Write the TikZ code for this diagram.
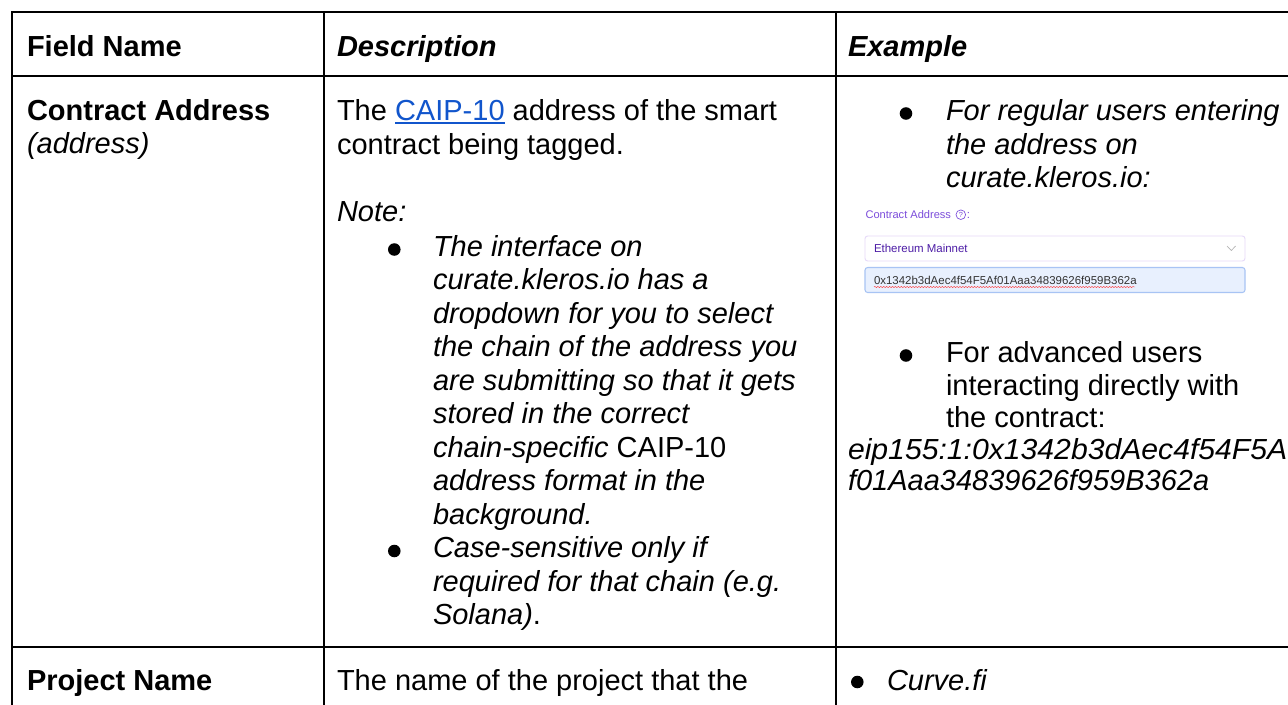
\documentclass[tikz,border=0pt]{standalone}
\usepackage{fontspec}
\usepackage{graphicx}
\setmainfont{Liberation Sans}
\usetikzlibrary{decorations.pathmorphing}
\definecolor{linkblue}{HTML}{1155CC}
\definecolor{uipurple}{HTML}{7C4DDB}
\definecolor{uidark}{HTML}{4D1DA6}
\definecolor{uiborder}{HTML}{E6DAF8}
\definecolor{inputfill}{HTML}{E8F0FE}
\definecolor{inputborder}{HTML}{A8C4F4}
\definecolor{uitext}{HTML}{333333}
\newcommand{\bodyfont}{\fontsize{21.75}{26}\selectfont}
\newcommand{\uifont}{\fontsize{8.6}{10}\selectfont}
\newcommand{\uilabelfont}{\fontsize{8.3}{10}\selectfont}
\newcommand{\mylink}[1]{\setbox0\hbox{#1}\rlap{\rule[-2.6pt]{\wd0}{1.3pt}}\box0}
\begin{document}
\begin{tikzpicture}[x=0.75pt,y=-0.75pt,
  txt/.style={anchor=base west, inner sep=0pt, outer sep=0pt, font=\bodyfont},
  bold/.style={txt, font=\bodyfont\bfseries},
  ital/.style={txt, font=\bodyfont\itshape},
  boldital/.style={txt, font=\bodyfont\bfseries\itshape},
  rule/.style={line width=1.6pt, black},
  dot/.style={circle, fill=black, draw=none, inner sep=0pt, minimum size=9.4pt},
  uitxt/.style={anchor=base west, inner sep=0pt, outer sep=0pt, font=\uifont}]
\useasboundingbox (0,0) rectangle (1288,704);
\fill[white] (0,0) rectangle (1288,704);

% table rules
\draw[rule, line join=miter] (12.2,720) -- (12.2,12.2) -- (1300,12.2);
\draw[rule] (12.2,76) -- (1300,76);
\draw[rule] (12.2,646.7) -- (1300,646.7);
\draw[rule] (324,12.2) -- (324,720);
\draw[rule] (836,12.2) -- (836,720);

% header
\node[bold] (h1) at (27,56) {Field Name};
\node[boldital] (h2) at (337,56) {Description};
\node[boldital] (h3) at (848,56) {Example};

% row 1, column 1
\node[bold] (r1a) at (27,120.5) {Contract Address};
\node[ital] (r1b) at (27,153.5) {(address)};

% row 1, column 2
\node[txt] (d1) at (337,120.5) {The \textcolor{linkblue}{\mylink{CAIP-10}} address of the smart};
\node[txt] (d2) at (337,154) {contract being tagged.};
\node[ital] (d3) at (337,221.7) {Note:};
\node[dot] (b1) at (394.3,249.5) {};
\node[ital] (l1) at (433,256) {The interface on};
\node[ital] (l2) at (433,289.5) {curate.kleros.io has a};
\node[ital] (l3) at (433,323) {dropdown for you to select};
\node[ital] (l4) at (433,356.5) {the chain of the address you};
\node[ital] (l5) at (433,390) {are submitting so that it gets};
\node[ital] (l6) at (433,423.5) {stored in the correct};
\node[txt] (l7) at (433,457) {\itshape chain-specific\upshape{} CAIP-10};
\node[ital] (l8) at (433,490.5) {address format in the};
\node[ital] (l9) at (433,524) {background.};
\node[dot] (b2) at (394.3,551) {};
\node[ital] (l10) at (433,557.5) {Case-sensitive only if};
\node[ital] (l11) at (433,591) {required for that chain (e.g.};
\node[txt] (l12) at (433,624.5) {\itshape Solana)\upshape.};

% row 1, column 3
\node[dot] (b3) at (906,113.5) {};
\node[ital] (e1) at (946,120.7) {For regular users entering};
\node[ital] (e2) at (946,154) {the address on};
\node[ital] (e3) at (946,187) {curate.kleros.io:};

% screenshot of the form
\node[uitxt, font=\uilabelfont, text=uipurple] (ca) at (865.5,218.5) {Contract Address};
\node[circle, draw=uipurple, line width=0.5pt, inner sep=0pt, minimum size=7.2pt,
      font=\fontsize{5.5}{6}\selectfont, text=uipurple] (help) at (960.8,214.7) {?};
\node[uitxt, text=uipurple] (colon) at (966.8,218.5) {:};
\draw[uiborder, fill=white, line width=0.7pt, rounded corners=2pt] (865,236) rectangle (1245,261);
\node[uitxt, text=uidark] (chain) at (874,252) {Ethereum Mainnet};
\draw[black!30, line width=0.5pt] (1227,246) -- (1231.3,250.5) -- (1235.6,246);
\draw[inputborder, fill=inputfill, line width=0.8pt, rounded corners=2pt] (865,267.5) rectangle (1245,292.5);
\node[uitxt, text=uitext] (addr) at (874,284) {0x1342b3dAec4f54F5Af01Aaa34839626f959B362a};
\draw[red!75, line width=0.35pt, decorate, decoration={snake, amplitude=0.45pt, segment length=2.2pt}]
  (addr.base west) ++(0,3) -- ++(261,0);

\node[dot] (b4) at (906,355.5) {};
\node[txt] (f1) at (946,362.5) {For advanced users};
\node[txt] (f2) at (946,395) {interacting directly with};
\node[txt] (f3) at (946,427.5) {the contract:};
\node[ital] (f4) at (848,459.5) {\scalebox{1.04}[1]{eip155:1:0x1342b3dAec4f54F5A}};
\node[ital] (f5) at (848,490.5) {f01Aaa34839626f959B362a};

% row 2
\node[bold] (r2a) at (27,690) {Project Name};
\node[txt] (r2b) at (337,690) {The name of the project that the};
\node[dot] (b5) at (857.3,682) {};
\node[ital] (r2c) at (887,690) {Curve.fi};
\end{tikzpicture}
\end{document}
